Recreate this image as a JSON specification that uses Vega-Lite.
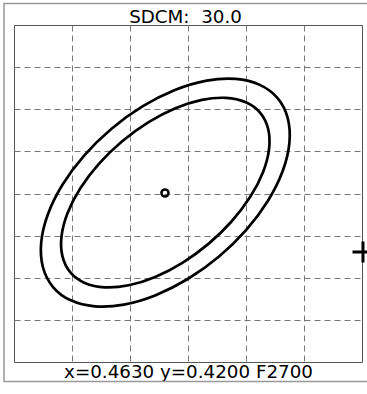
{
  "$schema": "https://vega.github.io/schema/vega-lite/v6.json",
  "width": 348,
  "height": 337,
  "autosize": {"type": "none"},
  "padding": {"left": 14, "top": 25, "right": 5, "bottom": 32},
  "background": "white",
  "title": {"text": "SDCM:\u00a0 30.0", "font": "DejaVu Sans", "fontSize": 18.3, "fontWeight": "normal", "color": "#000", "anchor": "middle", "offset": -24.5, "dx": -2.5},
  "config": {"view": {"stroke": "#555", "strokeWidth": 1}},
  "datasets": {
    "frame": [{"x": -0.172, "x2": 6.14, "y": -0.463, "y2": 8.51}],
    "ellipses": [
      {"ring": "outer", "i": 0, "x": 4.5445, "y": 6.2628},
      {"ring": "outer", "i": 1, "x": 4.7183, "y": 5.7938},
      {"ring": "outer", "i": 2, "x": 4.7483, "y": 5.2038},
      {"ring": "outer", "i": 3, "x": 4.6326, "y": 4.5334},
      {"ring": "outer", "i": 4, "x": 4.3789, "y": 3.8282},
      {"ring": "outer", "i": 5, "x": 4.0046, "y": 3.1362},
      {"ring": "outer", "i": 6, "x": 3.5352, "y": 2.5042},
      {"ring": "outer", "i": 7, "x": 3.0026, "y": 1.9758},
      {"ring": "outer", "i": 8, "x": 2.4431, "y": 1.5867},
      {"ring": "outer", "i": 9, "x": 1.8950, "y": 1.3638},
      {"ring": "outer", "i": 10, "x": 1.3955, "y": 1.3216},
      {"ring": "outer", "i": 11, "x": 0.9786, "y": 1.4637},
      {"ring": "outer", "i": 12, "x": 0.6727, "y": 1.7800},
      {"ring": "outer", "i": 13, "x": 0.4989, "y": 2.2490},
      {"ring": "outer", "i": 14, "x": 0.4689, "y": 2.8390},
      {"ring": "outer", "i": 15, "x": 0.5846, "y": 3.5094},
      {"ring": "outer", "i": 16, "x": 0.8383, "y": 4.2146},
      {"ring": "outer", "i": 17, "x": 1.2126, "y": 4.9066},
      {"ring": "outer", "i": 18, "x": 1.6820, "y": 5.5386},
      {"ring": "outer", "i": 19, "x": 2.2146, "y": 6.0670},
      {"ring": "outer", "i": 20, "x": 2.7741, "y": 6.4561},
      {"ring": "outer", "i": 21, "x": 3.3222, "y": 6.6790},
      {"ring": "outer", "i": 22, "x": 3.8217, "y": 6.7212},
      {"ring": "outer", "i": 23, "x": 4.2386, "y": 6.5791},
      {"ring": "inner", "i": 0, "x": 4.2450, "y": 5.9160},
      {"ring": "inner", "i": 1, "x": 4.3815, "y": 5.5364},
      {"ring": "inner", "i": 2, "x": 4.3974, "y": 5.0536},
      {"ring": "inner", "i": 3, "x": 4.2914, "y": 4.5002},
      {"ring": "inner", "i": 4, "x": 4.0707, "y": 3.9146},
      {"ring": "inner", "i": 5, "x": 3.7502, "y": 3.3358},
      {"ring": "inner", "i": 6, "x": 3.3520, "y": 2.8041},
      {"ring": "inner", "i": 7, "x": 2.9033, "y": 2.3554},
      {"ring": "inner", "i": 8, "x": 2.4341, "y": 2.0197},
      {"ring": "inner", "i": 9, "x": 1.9772, "y": 1.8210},
      {"ring": "inner", "i": 10, "x": 1.5633, "y": 1.7719},
      {"ring": "inner", "i": 11, "x": 1.2205, "y": 1.8763},
      {"ring": "inner", "i": 12, "x": 0.9722, "y": 2.1268},
      {"ring": "inner", "i": 13, "x": 0.8357, "y": 2.5064},
      {"ring": "inner", "i": 14, "x": 0.8198, "y": 2.9892},
      {"ring": "inner", "i": 15, "x": 0.9258, "y": 3.5426},
      {"ring": "inner", "i": 16, "x": 1.1465, "y": 4.1282},
      {"ring": "inner", "i": 17, "x": 1.4670, "y": 4.7070},
      {"ring": "inner", "i": 18, "x": 1.8652, "y": 5.2387},
      {"ring": "inner", "i": 19, "x": 2.3139, "y": 5.6874},
      {"ring": "inner", "i": 20, "x": 2.7831, "y": 6.0231},
      {"ring": "inner", "i": 21, "x": 3.2400, "y": 6.2218},
      {"ring": "inner", "i": 22, "x": 3.6539, "y": 6.2709},
      {"ring": "inner", "i": 23, "x": 3.9967, "y": 6.1665}
    ],
    "target": [{"x": 2.603, "y": 4.012}],
    "measured": [{"x": 6.017, "y": 2.611}]
  },
  "encoding": {
    "x": {"field": "x", "type": "quantitative",
      "scale": {"domain": [0, 6], "nice": false, "zero": false},
      "axis": {"values": [1, 2, 3, 4, 5], "labels": false, "ticks": false, "domain": false, "grid": true,
        "gridDash": [6, 4], "gridColor": "#777", "gridOpacity": 1, "gridWidth": 1,
        "title": "x=0.4630 y=0.4200 F2700", "titleFont": "DejaVu Sans", "titleFontSize": 18.3,
        "titleFontWeight": "normal", "titleColor": "#000", "titlePadding": 1.5}},
    "y": {"field": "y", "type": "quantitative",
      "scale": {"domain": [0, 8], "nice": false, "zero": false},
      "axis": {"values": [1, 2, 3, 4, 5, 6, 7], "labels": false, "ticks": false, "domain": false, "grid": true,
        "gridDash": [6, 4], "gridColor": "#777", "gridOpacity": 1, "gridWidth": 1, "title": null}}
  },
  "layer": [
    {"data": {"name": "frame"},
     "mark": {"type": "rect", "fill": null, "fillOpacity": 0, "stroke": "#999", "strokeWidth": 1.5, "clip": false},
     "encoding": {"x2": {"field": "x2"}, "y2": {"field": "y2"}}},
    {"data": {"name": "ellipses"},
     "mark": {"type": "line", "interpolate": "cardinal-closed", "color": "#000", "strokeWidth": 2.7},
     "encoding": {"detail": {"field": "ring"}, "order": {"field": "i", "type": "quantitative"}}},
    {"data": {"name": "target"},
     "mark": {"type": "point", "shape": "circle", "filled": false, "size": 50, "color": "#000", "strokeWidth": 2.5, "opacity": 1}},
    {"data": {"name": "measured"},
     "mark": {"type": "point", "shape": "M-1,0H1M0,-1V1", "filled": false, "size": 441, "color": "#000", "strokeWidth": 3, "opacity": 1, "clip": false}}
  ]
}
